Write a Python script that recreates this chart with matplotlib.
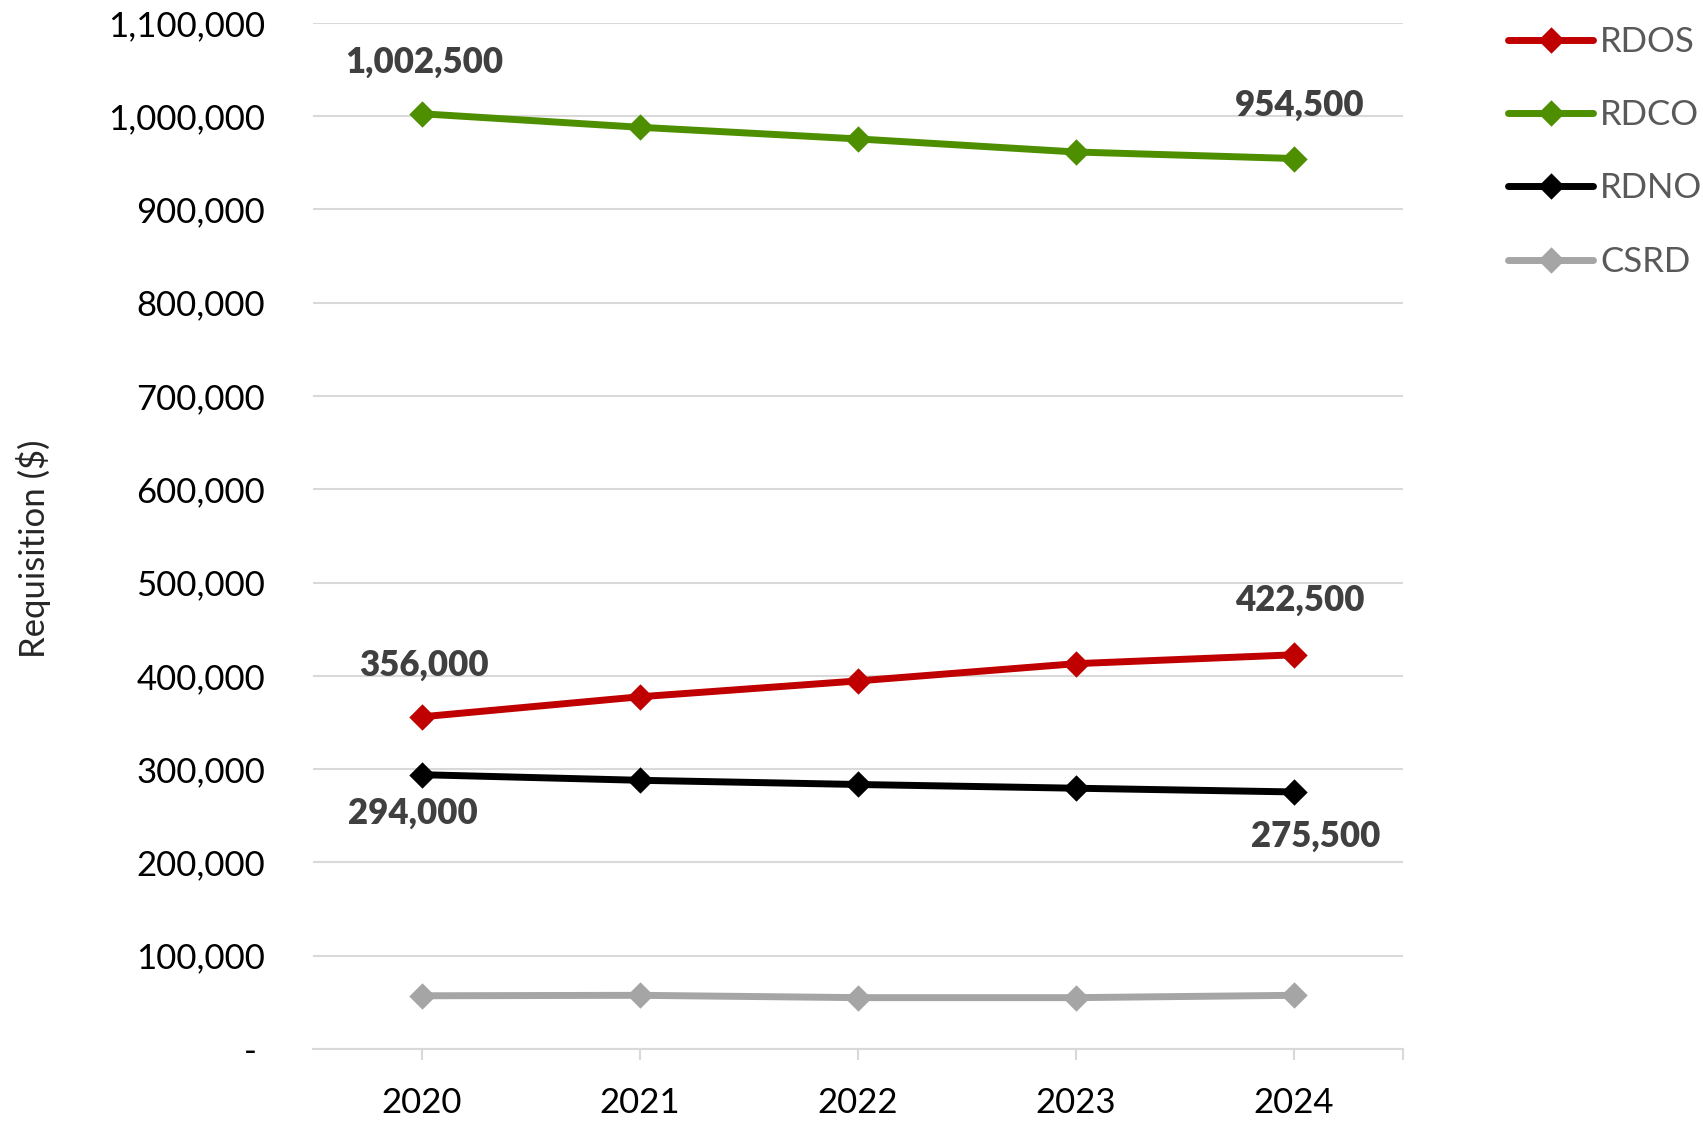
import matplotlib
matplotlib.use("Agg")
import matplotlib.pyplot as plt
from matplotlib.ticker import FuncFormatter

plt.rcParams['font.family'] = ['Lato', 'DejaVu Sans']

# data
years = ["2020", "2021", "2022", "2023", "2024"]
series_names = ["RDOS", "RDCO", "RDNO", "CSRD"]
rdos = [356000, 377500, 394500, 413000, 422500]
rdco = [1002500, 988000, 975500, 961500, 954500]
rdno = [294000, 288000, 283500, 279500, 275500]
csrd = [57000, 57500, 55000, 55000, 57500]
y_ticks = [0, 100000, 200000, 300000, 400000, 500000, 600000,
           700000, 800000, 900000, 1000000, 1100000]

colors = ["#C00000", "#4E8F00", "#000000", "#A5A5A5"]
diamond = [(0, 1), (1, 0), (0, -1), (-1, 0), (0, 1)]

# which points get a value label, and the offset (points) of the label
labels = {
    ("RDOS", 0): (2, 37), ("RDOS", 4): (4, 39),
    ("RDCO", 0): (2, 37), ("RDCO", 4): (4, 38),
    ("RDNO", 0): (-6, -28), ("RDNO", 4): (16, -32),
}

fig = plt.figure(figsize=(17.03, 11.22), dpi=100)
ax = fig.add_axes([0.1835, 0.0651, 0.8238 - 0.1835, 0.9797 - 0.0651])

x = list(range(len(years)))
for name, vals, col in zip(series_names, [rdos, rdco, rdno, csrd], colors):
    ax.plot(x, vals, color=col, lw=5, marker=diamond, markersize=19,
            markeredgewidth=0, solid_capstyle='round', label=name, zorder=3)
    for i, v in enumerate(vals):
        if (name, i) in labels:
            ax.annotate(f"{v:,.0f}", (i, v), xytext=labels[(name, i)],
                        textcoords='offset points', ha='center', va='center',
                        fontsize=25, fontweight='heavy', color='#404040')

ax.set_xlim(-0.5, 4.5)
ax.set_ylim(0, 1100000)
ax.set_yticks(y_ticks)
ax.yaxis.set_major_formatter(FuncFormatter(lambda v, p: "- " if v == 0 else f"{v:,.0f}"))
ax.set_xticks(x)
ax.set_xticklabels(years)
ax.set_xticks([4.5], minor=True)

ax.grid(axis='y', color='#D9D9D9', lw=1.5)
ax.set_axisbelow(True)
for s in ['top', 'right', 'left']:
    ax.spines[s].set_visible(False)
ax.spines['bottom'].set_color('#D9D9D9')
ax.spines['bottom'].set_linewidth(1.5)

ax.tick_params(axis='y', length=0, pad=34, labelsize=25, labelcolor='#000000')
ax.tick_params(axis='x', which='both', length=8, width=1.5, color='#D9D9D9',
               pad=19.5, labelsize=25, labelcolor='#000000')

ax.set_ylabel("Requisition ($)", fontsize=25, color='#262626')
ax.yaxis.set_label_coords(-0.240, 0.487)

fig.legend(loc='upper left', bbox_to_anchor=(0.8855, 0.977), frameon=False,
           borderpad=0, borderaxespad=0, handlelength=2.45, handletextpad=0.2,
           labelspacing=1.19, fontsize=25, labelcolor='#595959')

fig.savefig("out.png", dpi=100)
